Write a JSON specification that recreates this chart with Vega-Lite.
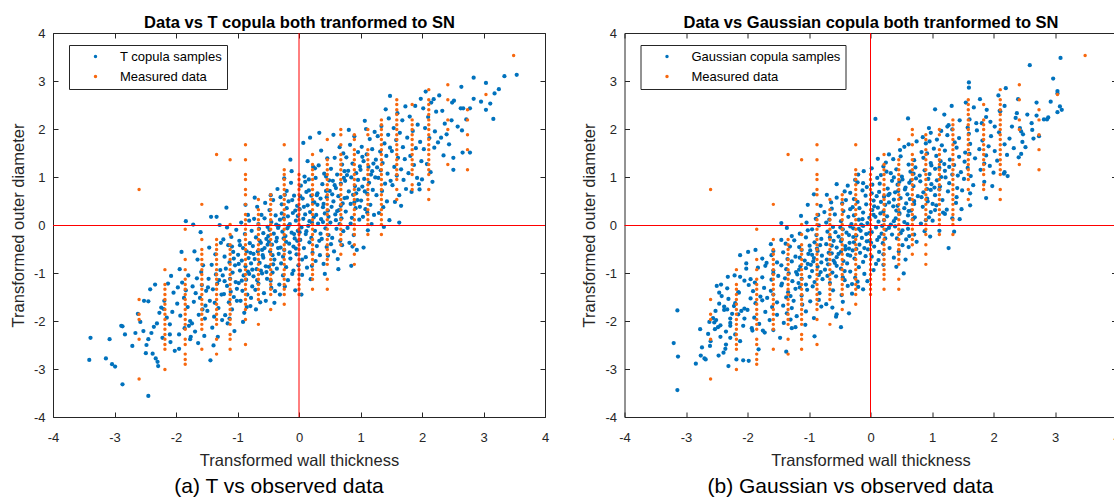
{
"$schema":"https://vega.github.io/schema/vega-lite/v6.json",
"background":"white",
"padding":{"left":10,"top":14,"right":0,"bottom":0},
"spacing":32.5,
"config":{"font":"Liberation Sans","view":{"stroke":null},
"axis":{"grid":false,"domainColor":"#262626","tickColor":"#262626","labelColor":"#262626","titleColor":"#262626","labelFont":"Liberation Sans","titleFont":"Liberation Sans","titleFontWeight":"normal"},
"title":{"font":"Liberation Sans"}},
"resolve":{"scale":{"color":"independent"}},
"datasets":{
"meas":[
{"x":-2.6,"y":0.74},{"x":-2.6,"y":-1.55},{"x":-2.6,"y":-1.86},{"x":-2.6,"y":-1.97},{"x":-2.6,"y":-2.38},{"x":-2.6,"y":-3.21},
{"x":-2.18,"y":-0.93},{"x":-2.18,"y":-1.24},{"x":-2.18,"y":-1.34},{"x":-2.18,"y":-1.45},{"x":-2.18,"y":-1.55},{"x":-2.18,"y":-1.65},{"x":-2.18,"y":-1.76},{"x":-2.18,"y":-1.86},{"x":-2.18,"y":-1.97},{"x":-2.18,"y":-2.07},{"x":-2.18,"y":-2.17},{"x":-2.18,"y":-2.28},{"x":-2.18,"y":-2.38},{"x":-2.18,"y":-2.49},{"x":-2.18,"y":-2.59},{"x":-2.18,"y":-3.01},
{"x":-1.85,"y":-0.09},{"x":-1.85,"y":-0.72},{"x":-1.85,"y":-0.93},{"x":-1.85,"y":-1.13},{"x":-1.85,"y":-1.24},{"x":-1.85,"y":-1.34},{"x":-1.85,"y":-1.45},{"x":-1.85,"y":-1.55},{"x":-1.85,"y":-1.65},{"x":-1.85,"y":-1.76},{"x":-1.85,"y":-1.86},{"x":-1.85,"y":-1.97},{"x":-1.85,"y":-2.07},{"x":-1.85,"y":-2.17},{"x":-1.85,"y":-2.38},{"x":-1.85,"y":-2.49},{"x":-1.85,"y":-2.69},{"x":-1.85,"y":-2.8},{"x":-1.85,"y":-2.9},
{"x":-1.58,"y":0.43},{"x":-1.58,"y":-0.3},{"x":-1.58,"y":-0.51},{"x":-1.58,"y":-0.61},{"x":-1.58,"y":-0.72},{"x":-1.58,"y":-0.82},{"x":-1.58,"y":-0.93},{"x":-1.58,"y":-1.03},{"x":-1.58,"y":-1.13},{"x":-1.58,"y":-1.24},{"x":-1.58,"y":-1.34},{"x":-1.58,"y":-1.45},{"x":-1.58,"y":-1.55},{"x":-1.58,"y":-1.65},{"x":-1.58,"y":-1.76},{"x":-1.58,"y":-1.86},{"x":-1.58,"y":-1.97},{"x":-1.58,"y":-2.07},{"x":-1.58,"y":-2.17},{"x":-1.58,"y":-2.59},
{"x":-1.34,"y":1.47},{"x":-1.34,"y":-0.3},{"x":-1.34,"y":-0.41},{"x":-1.34,"y":-0.51},{"x":-1.34,"y":-0.61},{"x":-1.34,"y":-0.72},{"x":-1.34,"y":-0.82},{"x":-1.34,"y":-0.93},{"x":-1.34,"y":-1.03},{"x":-1.34,"y":-1.13},{"x":-1.34,"y":-1.24},{"x":-1.34,"y":-1.34},{"x":-1.34,"y":-1.45},{"x":-1.34,"y":-1.55},{"x":-1.34,"y":-1.65},{"x":-1.34,"y":-1.76},{"x":-1.34,"y":-1.86},{"x":-1.34,"y":-1.97},{"x":-1.34,"y":-2.07},{"x":-1.34,"y":-2.38},{"x":-1.34,"y":-2.69},
{"x":-1.12,"y":1.36},{"x":-1.12,"y":0.01},{"x":-1.12,"y":-0.2},{"x":-1.12,"y":-0.41},{"x":-1.12,"y":-0.51},{"x":-1.12,"y":-0.61},{"x":-1.12,"y":-0.72},{"x":-1.12,"y":-0.82},{"x":-1.12,"y":-0.93},{"x":-1.12,"y":-1.03},{"x":-1.12,"y":-1.13},{"x":-1.12,"y":-1.24},{"x":-1.12,"y":-1.34},{"x":-1.12,"y":-1.45},{"x":-1.12,"y":-1.55},{"x":-1.12,"y":-1.65},{"x":-1.12,"y":-1.76},{"x":-1.12,"y":-1.86},{"x":-1.12,"y":-1.97},{"x":-1.12,"y":-2.07},{"x":-1.12,"y":-2.28},{"x":-1.12,"y":-2.38},{"x":-1.12,"y":-2.59},
{"x":-0.87,"y":1.67},{"x":-0.87,"y":1.36},{"x":-0.87,"y":1.05},{"x":-0.87,"y":0.95},{"x":-0.87,"y":0.74},{"x":-0.87,"y":0.63},{"x":-0.87,"y":0.43},{"x":-0.87,"y":0.22},{"x":-0.87,"y":0.11},{"x":-0.87,"y":0.01},{"x":-0.87,"y":-0.09},{"x":-0.87,"y":-0.2},{"x":-0.87,"y":-0.3},{"x":-0.87,"y":-0.41},{"x":-0.87,"y":-0.51},{"x":-0.87,"y":-0.61},{"x":-0.87,"y":-0.72},{"x":-0.87,"y":-0.82},{"x":-0.87,"y":-0.93},{"x":-0.87,"y":-1.03},{"x":-0.87,"y":-1.13},{"x":-0.87,"y":-1.24},{"x":-0.87,"y":-1.34},{"x":-0.87,"y":-1.45},{"x":-0.87,"y":-1.55},{"x":-0.87,"y":-1.65},{"x":-0.87,"y":-1.76},{"x":-0.87,"y":-1.97},{"x":-0.87,"y":-2.49},
{"x":-0.66,"y":0.53},{"x":-0.66,"y":0.32},{"x":-0.66,"y":0.22},{"x":-0.66,"y":0.11},{"x":-0.66,"y":0.01},{"x":-0.66,"y":-0.09},{"x":-0.66,"y":-0.2},{"x":-0.66,"y":-0.3},{"x":-0.66,"y":-0.41},{"x":-0.66,"y":-0.51},{"x":-0.66,"y":-0.61},{"x":-0.66,"y":-0.72},{"x":-0.66,"y":-0.82},{"x":-0.66,"y":-0.93},{"x":-0.66,"y":-1.03},{"x":-0.66,"y":-1.13},{"x":-0.66,"y":-1.24},{"x":-0.66,"y":-1.34},{"x":-0.66,"y":-1.45},{"x":-0.66,"y":-1.55},{"x":-0.66,"y":-2.07},
{"x":-0.46,"y":0.63},{"x":-0.46,"y":0.53},{"x":-0.46,"y":0.43},{"x":-0.46,"y":0.32},{"x":-0.46,"y":0.22},{"x":-0.46,"y":0.11},{"x":-0.46,"y":0.01},{"x":-0.46,"y":-0.09},{"x":-0.46,"y":-0.2},{"x":-0.46,"y":-0.3},{"x":-0.46,"y":-0.41},{"x":-0.46,"y":-0.51},{"x":-0.46,"y":-0.61},{"x":-0.46,"y":-0.72},{"x":-0.46,"y":-0.82},{"x":-0.46,"y":-0.93},{"x":-0.46,"y":-1.03},{"x":-0.46,"y":-1.13},{"x":-0.46,"y":-1.24},{"x":-0.46,"y":-1.34},{"x":-0.46,"y":-1.45},{"x":-0.46,"y":-1.76},
{"x":-0.24,"y":1.67},{"x":-0.24,"y":1.15},{"x":-0.24,"y":1.05},{"x":-0.24,"y":0.95},{"x":-0.24,"y":0.84},{"x":-0.24,"y":0.74},{"x":-0.24,"y":0.63},{"x":-0.24,"y":0.53},{"x":-0.24,"y":0.43},{"x":-0.24,"y":0.32},{"x":-0.24,"y":0.22},{"x":-0.24,"y":0.11},{"x":-0.24,"y":0.01},{"x":-0.24,"y":-0.09},{"x":-0.24,"y":-0.2},{"x":-0.24,"y":-0.3},{"x":-0.24,"y":-0.41},{"x":-0.24,"y":-0.51},{"x":-0.24,"y":-0.61},{"x":-0.24,"y":-0.72},{"x":-0.24,"y":-0.82},{"x":-0.24,"y":-0.93},{"x":-0.24,"y":-1.03},{"x":-0.24,"y":-1.13},{"x":-0.24,"y":-1.24},{"x":-0.24,"y":-1.34},{"x":-0.24,"y":-1.45},{"x":-0.24,"y":-1.65},
{"x":0,"y":1.05},{"x":0,"y":0.95},{"x":0,"y":0.84},{"x":0,"y":0.74},{"x":0,"y":0.63},{"x":0,"y":0.53},{"x":0,"y":0.43},{"x":0,"y":0.32},{"x":0,"y":0.22},{"x":0,"y":0.11},{"x":0,"y":0.01},{"x":0,"y":-0.09},{"x":0,"y":-0.2},{"x":0,"y":-0.3},{"x":0,"y":-0.41},{"x":0,"y":-0.51},{"x":0,"y":-0.61},{"x":0,"y":-0.72},{"x":0,"y":-0.82},{"x":0,"y":-0.93},{"x":0,"y":-1.03},{"x":0,"y":-1.13},{"x":0,"y":-1.24},{"x":0,"y":-1.34},{"x":0,"y":-1.45},
{"x":0.22,"y":1.47},{"x":0.22,"y":1.26},{"x":0.22,"y":1.15},{"x":0.22,"y":1.05},{"x":0.22,"y":0.95},{"x":0.22,"y":0.84},{"x":0.22,"y":0.74},{"x":0.22,"y":0.63},{"x":0.22,"y":0.53},{"x":0.22,"y":0.43},{"x":0.22,"y":0.32},{"x":0.22,"y":0.22},{"x":0.22,"y":0.11},{"x":0.22,"y":0.01},{"x":0.22,"y":-0.09},{"x":0.22,"y":-0.2},{"x":0.22,"y":-0.3},{"x":0.22,"y":-0.41},{"x":0.22,"y":-0.51},{"x":0.22,"y":-0.61},{"x":0.22,"y":-0.72},{"x":0.22,"y":-0.82},{"x":0.22,"y":-0.93},{"x":0.22,"y":-1.03},{"x":0.22,"y":-1.13},{"x":0.22,"y":-1.34},
{"x":0.46,"y":1.78},{"x":0.46,"y":1.36},{"x":0.46,"y":1.26},{"x":0.46,"y":1.15},{"x":0.46,"y":1.05},{"x":0.46,"y":0.95},{"x":0.46,"y":0.84},{"x":0.46,"y":0.74},{"x":0.46,"y":0.63},{"x":0.46,"y":0.53},{"x":0.46,"y":0.43},{"x":0.46,"y":0.32},{"x":0.46,"y":0.22},{"x":0.46,"y":0.11},{"x":0.46,"y":0.01},{"x":0.46,"y":-0.09},{"x":0.46,"y":-0.2},{"x":0.46,"y":-0.3},{"x":0.46,"y":-0.41},{"x":0.46,"y":-0.51},{"x":0.46,"y":-0.61},{"x":0.46,"y":-0.72},{"x":0.46,"y":-0.82},{"x":0.46,"y":-1.13},{"x":0.46,"y":-1.34},
{"x":0.68,"y":1.99},{"x":0.68,"y":1.88},{"x":0.68,"y":1.67},{"x":0.68,"y":1.47},{"x":0.68,"y":1.36},{"x":0.68,"y":1.26},{"x":0.68,"y":1.15},{"x":0.68,"y":1.05},{"x":0.68,"y":0.95},{"x":0.68,"y":0.84},{"x":0.68,"y":0.74},{"x":0.68,"y":0.63},{"x":0.68,"y":0.53},{"x":0.68,"y":0.43},{"x":0.68,"y":0.32},{"x":0.68,"y":0.22},{"x":0.68,"y":0.11},{"x":0.68,"y":0.01},{"x":0.68,"y":-0.09},{"x":0.68,"y":-0.2},{"x":0.68,"y":-0.3},{"x":0.68,"y":-0.41},{"x":0.68,"y":-0.61},
{"x":0.9,"y":1.88},{"x":0.9,"y":1.78},{"x":0.9,"y":1.57},{"x":0.9,"y":1.47},{"x":0.9,"y":1.36},{"x":0.9,"y":1.26},{"x":0.9,"y":1.15},{"x":0.9,"y":1.05},{"x":0.9,"y":0.95},{"x":0.9,"y":0.84},{"x":0.9,"y":0.74},{"x":0.9,"y":0.63},{"x":0.9,"y":0.53},{"x":0.9,"y":0.43},{"x":0.9,"y":0.32},{"x":0.9,"y":0.22},{"x":0.9,"y":0.11},{"x":0.9,"y":0.01},{"x":0.9,"y":-0.09},{"x":0.9,"y":-0.2},{"x":0.9,"y":-0.41},{"x":0.9,"y":-0.61},{"x":0.9,"y":-0.82},
{"x":1.12,"y":1.99},{"x":1.12,"y":1.88},{"x":1.12,"y":1.57},{"x":1.12,"y":1.47},{"x":1.12,"y":1.36},{"x":1.12,"y":1.26},{"x":1.12,"y":1.15},{"x":1.12,"y":1.05},{"x":1.12,"y":0.95},{"x":1.12,"y":0.84},{"x":1.12,"y":0.74},{"x":1.12,"y":0.63},{"x":1.12,"y":0.53},{"x":1.12,"y":0.43},{"x":1.12,"y":0.32},{"x":1.12,"y":0.22},{"x":1.12,"y":0.11},{"x":1.12,"y":0.01},{"x":1.12,"y":-0.2},
{"x":1.34,"y":2.19},{"x":1.34,"y":2.09},{"x":1.34,"y":1.99},{"x":1.34,"y":1.88},{"x":1.34,"y":1.78},{"x":1.34,"y":1.67},{"x":1.34,"y":1.57},{"x":1.34,"y":1.47},{"x":1.34,"y":1.36},{"x":1.34,"y":1.26},{"x":1.34,"y":1.15},{"x":1.34,"y":1.05},{"x":1.34,"y":0.95},{"x":1.34,"y":0.84},{"x":1.34,"y":0.74},{"x":1.34,"y":0.63},{"x":1.34,"y":0.53},{"x":1.34,"y":0.43},{"x":1.34,"y":0.32},{"x":1.34,"y":0.22},{"x":1.34,"y":0.11},{"x":1.34,"y":0.01},{"x":1.34,"y":-0.2},
{"x":1.59,"y":2.61},{"x":1.59,"y":2.51},{"x":1.59,"y":2.4},{"x":1.59,"y":2.3},{"x":1.59,"y":2.19},{"x":1.59,"y":2.09},{"x":1.59,"y":1.99},{"x":1.59,"y":1.88},{"x":1.59,"y":1.78},{"x":1.59,"y":1.67},{"x":1.59,"y":1.57},{"x":1.59,"y":1.47},{"x":1.59,"y":1.36},{"x":1.59,"y":1.26},{"x":1.59,"y":1.15},{"x":1.59,"y":1.05},{"x":1.59,"y":0.95},{"x":1.59,"y":0.74},{"x":1.59,"y":0.53},
{"x":1.84,"y":2.51},{"x":1.84,"y":2.19},{"x":1.84,"y":2.09},{"x":1.84,"y":1.99},{"x":1.84,"y":1.88},{"x":1.84,"y":1.78},{"x":1.84,"y":1.67},{"x":1.84,"y":1.57},{"x":1.84,"y":1.47},{"x":1.84,"y":1.36},{"x":1.84,"y":1.26},{"x":1.84,"y":1.15},{"x":1.84,"y":1.05},{"x":1.84,"y":0.84},{"x":1.84,"y":0.74},
{"x":2.11,"y":2.82},{"x":2.11,"y":2.61},{"x":2.11,"y":2.51},{"x":2.11,"y":2.4},{"x":2.11,"y":2.3},{"x":2.11,"y":2.19},{"x":2.11,"y":2.09},{"x":2.11,"y":1.99},{"x":2.11,"y":1.88},{"x":2.11,"y":1.78},{"x":2.11,"y":1.67},{"x":2.11,"y":1.57},{"x":2.11,"y":1.47},{"x":2.11,"y":1.36},{"x":2.11,"y":1.26},{"x":2.11,"y":1.15},{"x":2.11,"y":1.05},{"x":2.11,"y":0.74},{"x":2.11,"y":0.53},
{"x":2.42,"y":2.92},{"x":2.42,"y":2.61},{"x":2.42,"y":2.19},{"x":2.42,"y":1.99},{"x":2.42,"y":1.26},
{"x":2.74,"y":2.4},{"x":2.74,"y":2.19},{"x":2.74,"y":1.88},{"x":2.74,"y":1.57},{"x":2.74,"y":1.15},
{"x":3.04,"y":2.72},{"x":3.49,"y":3.53}
],
"tc":[
{"x":-3.39,"y":-2.35},{"x":-3.41,"y":-2.81},{"x":-3.08,"y":-2.38},{"x":-3.14,"y":-2.78},{"x":-3.04,"y":-2.9},{"x":-2.99,"y":-2.95},{"x":-2.87,"y":-3.32},{"x":-2.45,"y":-3.56},{"x":-2.89,"y":-2.1},{"x":-2.87,"y":-2.11},{"x":-2.83,"y":-2.28},{"x":-2.66,"y":-2.25},{"x":-2.52,"y":-1.58},{"x":-2.49,"y":-2.67},{"x":-2.53,"y":-2.21},{"x":-2.62,"y":-1.85},{"x":-2.71,"y":-2.52},{"x":-2.58,"y":-2.02},
{"x":-2.48,"y":-2.5},{"x":-2.45,"y":-2.38},{"x":-2.42,"y":-1.34},{"x":-2.45,"y":-1.59},{"x":-2.38,"y":-2.68},{"x":-2.33,"y":-2.78},{"x":-2.3,"y":-2.85},{"x":-2.29,"y":-2.94},{"x":-2.4,"y":-2.25},{"x":-2.31,"y":-2.05},{"x":-2.34,"y":-1.24},{"x":-2.27,"y":-1.83},{"x":-2.36,"y":-2.12},
{"x":-2.24,"y":-1.72},{"x":-2.19,"y":-1.58},{"x":-2.2,"y":-1.75},{"x":-2.1,"y":-2.07},{"x":-2.1,"y":-2.28},{"x":-2.09,"y":-2.44},{"x":-2.08,"y":-1.06},{"x":-2.15,"y":-1.93},{"x":-2.04,"y":-1.41},{"x":-2.22,"y":-2.35},{"x":-2.02,"y":-2.62},{"x":-2.13,"y":-1.22},{"x":-2.06,"y":-1.81},
{"x":-1.94,"y":-0.92},{"x":-1.95,"y":-2.28},{"x":-1.95,"y":-2.58},{"x":-1.91,"y":-0.56},{"x":-1.9,"y":-1.2},{"x":-1.84,"y":-1.36},{"x":-1.77,"y":-2.38},{"x":-1.77,"y":-2},{"x":-1.76,"y":-2.33},{"x":-1.79,"y":-2.1},{"x":-1.84,"y":0.08},{"x":-1.98,"y":-1.64},{"x":-1.87,"y":-1.52},{"x":-1.81,"y":-1.71},{"x":-1.93,"y":-1.89},{"x":-1.86,"y":-2.15},{"x":-1.8,"y":-1.05},{"x":-1.97,"y":-1.3},
{"x":-1.72,"y":0.01},{"x":-1.6,"y":-0.15},{"x":-1.54,"y":-2.31},{"x":-1.68,"y":-1.42},{"x":-1.66,"y":-1.11},{"x":-1.63,"y":-1.87},{"x":-1.71,"y":-1.6},{"x":-1.58,"y":-1.25},{"x":-1.56,"y":-0.84},{"x":-1.74,"y":-2.05},{"x":-1.52,"y":-1.68},{"x":-1.65,"y":-0.72},{"x":-1.61,"y":-1.52},{"x":-1.69,"y":-2.22},{"x":-1.53,"y":-1.95},{"x":-1.59,"y":-0.98},{"x":-1.73,"y":-1.28},{"x":-1.51,"y":-1.37},{"x":-1.64,"y":-2.46},{"x":-1.57,"y":-1.76},{"x":-1.7,"y":-0.55},
{"x":-1.44,"y":-2.82},{"x":-1.39,"y":-2.51},{"x":-1.43,"y":0.17},{"x":-1.34,"y":0.17},{"x":-1.29,"y":0},{"x":-1.47,"y":-1.12},{"x":-1.45,"y":-1.58},{"x":-1.42,"y":-0.83},{"x":-1.4,"y":-1.34},{"x":-1.38,"y":-1.91},{"x":-1.36,"y":-0.61},{"x":-1.33,"y":-1.22},{"x":-1.31,"y":-1.73},{"x":-1.28,"y":-0.94},{"x":-1.26,"y":-1.45},{"x":-1.49,"y":-1.79},{"x":-1.46,"y":-0.47},{"x":-1.41,"y":-2.14},{"x":-1.35,"y":-1.03},{"x":-1.32,"y":-2.33},{"x":-1.3,"y":-1.15},{"x":-1.27,"y":-0.37},{"x":-1.48,"y":-1.3},{"x":-1.37,"y":-1.62},{"x":-1.25,"y":-1.98},
{"x":-1.18,"y":0.36},{"x":-1.24,"y":-1.05},{"x":-1.22,"y":-1.44},{"x":-1.21,"y":-0.66},{"x":-1.2,"y":-1.88},{"x":-1.19,"y":-0.91},{"x":-1.17,"y":-1.27},{"x":-1.16,"y":-2.05},{"x":-1.15,"y":-0.42},{"x":-1.14,"y":-1.61},{"x":-1.13,"y":-0.78},{"x":-1.12,"y":-1.12},{"x":-1.11,"y":-1.39},{"x":-1.1,"y":-0.25},{"x":-1.09,"y":-1.76},{"x":-1.08,"y":-0.99},{"x":-1.07,"y":-0.56},{"x":-1.06,"y":-1.5},{"x":-1.05,"y":-2.21},{"x":-1.04,"y":-0.84},{"x":-1.03,"y":-1.19},{"x":-1.02,"y":-0.1},{"x":-1.01,"y":-1.33},{"x":-1.23,"y":-0.3},{"x":-1.17,"y":-0.05},{"x":-1.13,"y":-1.95},{"x":-1.06,"y":-0.7},{"x":-1.01,"y":-1.58},{"x":-1.21,"y":-1.17},{"x":-1.09,"y":-0.45},
{"x":-0.99,"y":-0.62},{"x":-0.98,"y":-1.21},{"x":-0.97,"y":-0.33},{"x":-0.96,"y":-0.95},{"x":-0.95,"y":-1.58},{"x":-0.94,"y":0.05},{"x":-0.93,"y":-0.74},{"x":-0.92,"y":-1.37},{"x":-0.91,"y":-0.48},{"x":-0.9,"y":-1.05},{"x":-0.89,"y":-1.83},{"x":-0.88,"y":-0.19},{"x":-0.87,"y":-0.86},{"x":-0.86,"y":-1.14},{"x":-0.85,"y":-0.55},{"x":-0.84,"y":-1.45},{"x":-0.83,"y":0.21},{"x":-0.82,"y":-0.69},{"x":-0.81,"y":-1.02},{"x":-0.8,"y":-0.38},{"x":-0.79,"y":-1.69},{"x":-0.78,"y":-0.8},{"x":-0.77,"y":-0.12},{"x":-0.76,"y":-1.28},{"x":-0.96,"y":-0.42},{"x":-0.91,"y":-2.02},{"x":-0.87,"y":0.42},{"x":-0.83,"y":-0.97},{"x":-0.79,"y":-0.58},{"x":-0.76,"y":-0.93},{"x":-0.98,"y":-0.81},{"x":-0.85,"y":-1.71},{"x":-0.81,"y":0.09},{"x":-0.93,"y":-1.16},{"x":-0.78,"y":-1.52},
{"x":-0.75,"y":-0.44},{"x":-0.74,"y":-1.07},{"x":-0.73,"y":0.13},{"x":-0.72,"y":-0.71},{"x":-0.71,"y":-1.35},{"x":-0.7,"y":-0.26},{"x":-0.69,"y":-0.92},{"x":-0.68,"y":0.38},{"x":-0.67,"y":-0.55},{"x":-0.66,"y":-1.22},{"x":-0.65,"y":-0.08},{"x":-0.64,"y":-0.79},{"x":-0.63,"y":-1.61},{"x":-0.62,"y":-0.37},{"x":-0.61,"y":0.21},{"x":-0.6,"y":-1.01},{"x":-0.59,"y":-0.63},{"x":-0.58,"y":-0.17},{"x":-0.57,"y":-1.42},{"x":-0.56,"y":-0.48},{"x":-0.55,"y":0.46},{"x":-0.54,"y":-0.86},{"x":-0.53,"y":-0.29},{"x":-0.52,"y":-1.12},{"x":-0.51,"y":-0.04},{"x":-0.74,"y":-0.6},{"x":-0.7,"y":-1.76},{"x":-0.66,"y":0.02},{"x":-0.62,"y":-0.95},{"x":-0.58,"y":-0.68},{"x":-0.54,"y":-1.58},{"x":-0.51,"y":-0.41},{"x":-0.72,"y":0.57},{"x":-0.64,"y":-0.33},{"x":-0.56,"y":0.14},{"x":-0.68,"y":-1.15},{"x":-0.6,"y":-0.52},{"x":-0.53,"y":-0.98},
{"x":-0.5,"y":-0.23},{"x":-0.49,"y":-0.87},{"x":-0.48,"y":0.31},{"x":-0.47,"y":-0.55},{"x":-0.46,"y":-1.16},{"x":-0.45,"y":0.06},{"x":-0.44,"y":-0.41},{"x":-0.43,"y":-0.99},{"x":-0.42,"y":0.52},{"x":-0.41,"y":-0.18},{"x":-0.4,"y":-0.72},{"x":-0.39,"y":-1.38},{"x":-0.38,"y":0.2},{"x":-0.37,"y":-0.34},{"x":-0.36,"y":-0.91},{"x":-0.35,"y":0.75},{"x":-0.34,"y":-0.06},{"x":-0.33,"y":-0.6},{"x":-0.32,"y":-1.24},{"x":-0.31,"y":0.11},{"x":-0.3,"y":-0.47},{"x":-0.29,"y":-0.8},{"x":-0.28,"y":0.43},{"x":-0.27,"y":-0.14},{"x":-0.26,"y":-1.05},{"x":-0.25,"y":-0.28},{"x":-0.49,"y":-0.35},{"x":-0.46,"y":0.62},{"x":-0.43,"y":-0.63},{"x":-0.4,"y":-1.62},{"x":-0.37,"y":0.01},{"x":-0.34,"y":-0.48},{"x":-0.31,"y":-1.45},{"x":-0.28,"y":0.24},{"x":-0.26,"y":-0.66},{"x":-0.48,"y":-0.1},{"x":-0.42,"y":-0.82},{"x":-0.36,"y":-0.27},{"x":-0.3,"y":0.58},{"x":-0.45,"y":-1.31},{"x":-0.33,"y":-0.02},
{"x":-0.25,"y":0.14},{"x":-0.24,"y":-0.52},{"x":-0.23,"y":0.63},{"x":-0.22,"y":-0.23},{"x":-0.21,"y":-0.88},{"x":-0.2,"y":0.35},{"x":-0.19,"y":-0.07},{"x":-0.18,"y":-1.15},{"x":-0.17,"y":0.49},{"x":-0.16,"y":-0.39},{"x":-0.15,"y":0.02},{"x":-0.14,"y":-0.7},{"x":-0.13,"y":0.88},{"x":-0.12,"y":-0.16},{"x":-0.11,"y":-1.02},{"x":-0.1,"y":0.25},{"x":-0.09,"y":-0.45},{"x":-0.08,"y":0.61},{"x":-0.07,"y":-0.28},{"x":-0.06,"y":-1.36},{"x":-0.05,"y":0.09},{"x":-0.04,"y":-0.61},{"x":-0.03,"y":0.4},{"x":-0.02,"y":-0.12},{"x":-0.01,"y":-0.84},{"x":-0.24,"y":0.97},{"x":-0.21,"y":-0.35},{"x":-0.18,"y":0.18},{"x":-0.15,"y":-0.57},{"x":-0.12,"y":1.12},{"x":-0.09,"y":-0.95},{"x":-0.06,"y":0.3},{"x":-0.03,"y":-0.33},{"x":-0.23,"y":-1.28},{"x":-0.17,"y":-0.02},{"x":-0.11,"y":0.52},{"x":-0.05,"y":-0.49},{"x":-0.2,"y":0.71},{"x":-0.08,"y":-0.19},{"x":-0.02,"y":0.19},{"x":-0.14,"y":1.36},
{"x":0.01,"y":0.33},{"x":0.02,"y":-0.31},{"x":0.03,"y":0.82},{"x":0.04,"y":-0.05},{"x":0.05,"y":-0.72},{"x":0.06,"y":0.55},{"x":0.07,"y":0.13},{"x":0.08,"y":-0.48},{"x":0.09,"y":1.01},{"x":0.1,"y":0.22},{"x":0.11,"y":-0.19},{"x":0.12,"y":0.69},{"x":0.13,"y":-0.89},{"x":0.14,"y":0.41},{"x":0.15,"y":-0.02},{"x":0.16,"y":0.95},{"x":0.17,"y":-0.36},{"x":0.18,"y":0.27},{"x":0.19,"y":-1.13},{"x":0.2,"y":0.61},{"x":0.21,"y":0.05},{"x":0.22,"y":-0.58},{"x":0.23,"y":1.21},{"x":0.24,"y":0.16},{"x":0.02,"y":0.6},{"x":0.05,"y":-1.04},{"x":0.08,"y":0.38},{"x":0.11,"y":-0.67},{"x":0.14,"y":1.33},{"x":0.17,"y":0.08},{"x":0.2,"y":-0.27},{"x":0.23,"y":0.47},{"x":0.07,"y":1.71},{"x":0.18,"y":1.82},{"x":0.04,"y":-1.45},{"x":0.12,"y":-0.13},{"x":0.16,"y":0.72},{"x":0.21,"y":-0.85},{"x":0.1,"y":0.9},{"x":0.01,"y":-0.15},
{"x":0.25,"y":0.47},{"x":0.26,"y":-0.12},{"x":0.27,"y":0.98},{"x":0.28,"y":0.21},{"x":0.29,"y":-0.44},{"x":0.3,"y":0.66},{"x":0.31,"y":0.03},{"x":0.32,"y":1.24},{"x":0.33,"y":1.92},{"x":0.34,"y":-0.63},{"x":0.35,"y":0.55},{"x":0.36,"y":0.12},{"x":0.37,"y":-0.29},{"x":0.38,"y":0.85},{"x":0.39,"y":0.37},{"x":0.4,"y":-0.81},{"x":0.41,"y":1.07},{"x":0.42,"y":0.24},{"x":0.43,"y":-0.07},{"x":0.44,"y":0.71},{"x":0.45,"y":-0.46},{"x":0.46,"y":1.39},{"x":0.47,"y":0.3},{"x":0.48,"y":-0.21},{"x":0.49,"y":0.93},{"x":0.27,"y":-0.75},{"x":0.3,"y":0.42},{"x":0.33,"y":-0.33},{"x":0.36,"y":1.55},{"x":0.39,"y":0.06},{"x":0.42,"y":-1.02},{"x":0.45,"y":0.58},{"x":0.48,"y":0.17},{"x":0.26,"y":1.18},{"x":0.35,"y":-0.18},{"x":0.44,"y":1.01},{"x":0.29,"y":0.62},{"x":0.4,"y":0.44},{"x":0.47,"y":-0.64},
{"x":0.5,"y":0.71},{"x":0.51,"y":0.05},{"x":0.52,"y":1.17},{"x":0.53,"y":0.38},{"x":0.54,"y":-0.27},{"x":0.55,"y":0.92},{"x":0.56,"y":0.49},{"x":0.57,"y":-0.55},{"x":0.58,"y":1.4},{"x":0.59,"y":0.22},{"x":0.6,"y":0.77},{"x":0.61,"y":-0.08},{"x":0.62,"y":1.05},{"x":0.63,"y":-0.71},{"x":0.64,"y":0.6},{"x":0.65,"y":0.31},{"x":0.66,"y":1.62},{"x":0.67,"y":-0.33},{"x":0.68,"y":0.86},{"x":0.69,"y":0.14},{"x":0.7,"y":1.26},{"x":0.71,"y":0.45},{"x":0.72,"y":-0.13},{"x":0.73,"y":0.98},{"x":0.74,"y":0.56},{"x":0.52,"y":-0.4},{"x":0.56,"y":1.88},{"x":0.6,"y":0.1},{"x":0.64,"y":-0.92},{"x":0.68,"y":0.4},{"x":0.72,"y":1.49},{"x":0.54,"y":0.64},{"x":0.62,"y":0.29},{"x":0.7,"y":-0.42},{"x":0.58,"y":0.83},{"x":0.66,"y":0.02},{"x":0.74,"y":1.12},
{"x":0.75,"y":0.92},{"x":0.76,"y":0.28},{"x":0.77,"y":1.41},{"x":0.78,"y":0.57},{"x":0.79,"y":-0.06},{"x":0.8,"y":1.13},{"x":0.81,"y":0.7},{"x":0.82,"y":-0.37},{"x":0.83,"y":1.67},{"x":0.84,"y":0.44},{"x":0.85,"y":-0.85},{"x":0.85,"y":0.99},{"x":0.86,"y":0.15},{"x":0.87,"y":1.28},{"x":0.88,"y":0.63},{"x":0.89,"y":-0.21},{"x":0.9,"y":1.85},{"x":0.91,"y":0.81},{"x":0.92,"y":0.35},{"x":0.93,"y":1.08},{"x":0.94,"y":-0.52},{"x":0.95,"y":0.52},{"x":0.96,"y":1.52},{"x":0.97,"y":0.74},{"x":0.98,"y":0.11},{"x":0.99,"y":1.22},{"x":0.78,"y":1.04},{"x":0.84,"y":0.03},{"x":0.9,"y":0.47},{"x":0.96,"y":0.94},{"x":0.81,"y":1.98},{"x":0.87,"y":-0.45},{"x":0.93,"y":0.66},{"x":0.99,"y":0.38},
{"x":1,"y":1.15},{"x":1.01,"y":0.51},{"x":1.02,"y":1.63},{"x":1.03,"y":0.8},{"x":1.04,"y":0.17},{"x":1.05,"y":-0.47},{"x":1.05,"y":1.33},{"x":1.06,"y":0.96},{"x":1.07,"y":2.17},{"x":1.08,"y":0.33},{"x":1.09,"y":2},{"x":1.1,"y":1.47},{"x":1.11,"y":0.65},{"x":1.12,"y":-0.11},{"x":1.13,"y":1.21},{"x":1.14,"y":0.88},{"x":1.15,"y":1.79},{"x":1.16,"y":0.42},{"x":1.17,"y":1.05},{"x":1.18,"y":0.02},{"x":1.19,"y":1.58},{"x":1.2,"y":0.73},{"x":1.21,"y":1.28},{"x":1.22,"y":0.21},{"x":1.23,"y":1.94},{"x":1.24,"y":0.99},{"x":1.03,"y":1.42},{"x":1.11,"y":0.26},{"x":1.19,"y":1.12},{"x":1.07,"y":0.7},
{"x":1.25,"y":1.36},{"x":1.26,"y":0.62},{"x":1.28,"y":1.85},{"x":1.29,"y":0.98},{"x":1.3,"y":0.25},{"x":1.32,"y":1.53},{"x":1.33,"y":1.14},{"x":1.34,"y":2.06},{"x":1.35,"y":0.71},{"x":1.36,"y":1.29},{"x":1.38,"y":-0.04},{"x":1.39,"y":1.7},{"x":1.4,"y":0.86},{"x":1.41,"y":2.41},{"x":1.42,"y":1.44},{"x":1.43,"y":0.49},{"x":1.44,"y":1.07},{"x":1.46,"y":2.22},{"x":1.47,"y":0.1},{"x":1.48,"y":2.69},{"x":1.48,"y":1.61},{"x":1.49,"y":0.92},{"x":1.27,"y":1.2},{"x":1.37,"y":0.37},{"x":1.45,"y":1.88},
{"x":1.51,"y":1.54},{"x":1.52,"y":0.83},{"x":1.54,"y":2.02},{"x":1.55,"y":1.21},{"x":1.56,"y":0.48},{"x":1.58,"y":1.77},{"x":1.59,"y":1.03},{"x":1.6,"y":2.33},{"x":1.61,"y":1.4},{"x":1.63,"y":0.05},{"x":1.63,"y":0.62},{"x":1.64,"y":1.92},{"x":1.66,"y":0.4},{"x":1.66,"y":1.16},{"x":1.68,"y":2.18},{"x":1.69,"y":1.62},{"x":1.7,"y":0.94},{"x":1.72,"y":1.37},{"x":1.73,"y":2.47},{"x":1.74,"y":0.75},
{"x":1.76,"y":1.82},{"x":1.78,"y":1.08},{"x":1.8,"y":2.26},{"x":1.81,"y":1.44},{"x":1.83,"y":0.69},{"x":1.85,"y":1.96},{"x":1.87,"y":1.25},{"x":1.89,"y":2.48},{"x":1.9,"y":1.6},{"x":1.92,"y":0.98},{"x":1.93,"y":2.09},{"x":1.95,"y":0.85},{"x":1.96,"y":0.74},{"x":1.97,"y":1.73},{"x":1.98,"y":2.63},{"x":1.99,"y":1.33},
{"x":2,"y":0.95},{"x":2.02,"y":2.43},{"x":2.03,"y":1.58},{"x":2.05,"y":2.02},{"x":2.06,"y":2.78},{"x":2.08,"y":1.27},{"x":2.1,"y":2.25},{"x":2.12,"y":1.81},{"x":2.14,"y":1.1},{"x":2.15,"y":2.55},{"x":2.17,"y":0.9},{"x":2.19,"y":2.62},{"x":2.2,"y":1.61},{"x":2.21,"y":1.95},{"x":2.23,"y":2.36},
{"x":2.26,"y":1.72},{"x":2.31,"y":1.82},{"x":2.33,"y":2.38},{"x":2.35,"y":1.45},{"x":2.4,"y":1.89},{"x":2.44,"y":1.68},{"x":2.48,"y":2.18},{"x":2.49,"y":2.55},{"x":2.37,"y":2.11},{"x":2.28,"y":2.7},
{"x":2.51,"y":1.4},{"x":2.51,"y":1.15},{"x":2.52,"y":2.59},{"x":2.63,"y":2.43},{"x":2.64,"y":2.88},{"x":2.65,"y":1.97},{"x":2.66,"y":1.51},{"x":2.67,"y":2.43},{"x":2.78,"y":2.43},{"x":2.78,"y":1.51},{"x":2.84,"y":3.07},{"x":2.84,"y":2.63},{"x":2.96,"y":2.57},{"x":3.04,"y":2.96},{"x":3.04,"y":2.4},{"x":3.11,"y":2.53},{"x":3.16,"y":2.21},{"x":3.18,"y":2.74},{"x":3.25,"y":2.83},{"x":3.34,"y":3.1},{"x":3.54,"y":3.13},{"x":2.58,"y":2.05},{"x":2.72,"y":2.2}
],
"gc":[
{"x":-3.14,"y":-1.78},{"x":-3.2,"y":-2.46},{"x":-3.13,"y":-2.74},{"x":-3.14,"y":-3.44},{"x":-2.84,"y":-2.89},{"x":-2.76,"y":-2.72},{"x":-2.74,"y":-2.55},{"x":-2.68,"y":-2.8},{"x":-2.7,"y":-2.78},{"x":-2.61,"y":-2.52},{"x":-2.6,"y":-2.42},{"x":-2.47,"y":-2.72},{"x":-2.39,"y":-2.66},{"x":-2.35,"y":-2.49},{"x":-2.36,"y":-2.58},{"x":-2.31,"y":-2.94},{"x":-2.77,"y":-2.17},{"x":-2.64,"y":-2.27},{"x":-2.53,"y":-2.17},{"x":-2.48,"y":-2.13},{"x":-2.44,"y":-2.33},{"x":-2.56,"y":-1.94},{"x":-2.54,"y":-2.03},{"x":-2.51,"y":-1.98},{"x":-2.52,"y":-1.79},{"x":-2.42,"y":-1.48},{"x":-2.5,"y":-1.27},{"x":-2.43,"y":-1.24},{"x":-2.32,"y":-1.08},{"x":-2.12,"y":-1.08},{"x":-2.2,"y":-1.63},{"x":-2.12,"y":-0.63},{"x":-1.99,"y":-0.56},{"x":-1.87,"y":-0.52},{"x":-2.02,"y":-0.8},{"x":-2.28,"y":-2.04},{"x":-2.2,"y":-2.28},{"x":-2.12,"y":-2.42},{"x":-2.18,"y":-2.8},{"x":-2.07,"y":-2.82},{"x":-1.98,"y":-2.83},{"x":-1.82,"y":-2.59},{"x":-1.37,"y":-2.64},{"x":-1.47,"y":-2.35},{"x":-1.28,"y":-2.15},{"x":-0.91,"y":-2.32},{"x":-0.48,"y":-2.13},{"x":-0.55,"y":-1.86},{"x":-2.25,"y":-1.85},{"x":-2.05,"y":-1.95},{"x":-2.15,"y":-1.4},{"x":-1.92,"y":-2.2},{"x":-2.38,"y":-1.7},{"x":-2.28,"y":-2.35},
{"x":-1.72,"y":-2.24},{"x":-1.58,"y":-2.19},{"x":-1.75,"y":-2.2},{"x":-2.07,"y":-2.1},{"x":-2.28,"y":-2.1},{"x":-2.44,"y":-2.09},{"x":-1.06,"y":-2.08},{"x":-1.93,"y":-2.15},{"x":-1.41,"y":-2.04},{"x":-2.35,"y":-2.22},{"x":-2.62,"y":-2.02},{"x":-1.22,"y":-2.13},{"x":-1.81,"y":-2.06},
{"x":-0.92,"y":-1.94},{"x":-2.28,"y":-1.95},{"x":-0.56,"y":-1.91},{"x":-1.2,"y":-1.9},{"x":-1.36,"y":-1.84},{"x":-2.38,"y":-1.77},{"x":-2,"y":-1.77},{"x":-2.33,"y":-1.76},{"x":-2.1,"y":-1.79},{"x":-0.35,"y":-1.84},{"x":-1.64,"y":-1.98},{"x":-1.52,"y":-1.87},{"x":-1.71,"y":-1.81},{"x":-1.89,"y":-1.93},{"x":-2.15,"y":-1.86},{"x":-1.05,"y":-1.8},{"x":-1.3,"y":-1.97},
{"x":-0.62,"y":-1.72},{"x":-0.45,"y":-1.6},{"x":-2.31,"y":-1.54},{"x":-1.42,"y":-1.68},{"x":-1.11,"y":-1.66},{"x":-1.87,"y":-1.63},{"x":-1.6,"y":-1.71},{"x":-1.25,"y":-1.58},{"x":-0.84,"y":-1.56},{"x":-2.05,"y":-1.74},{"x":-1.68,"y":-1.52},{"x":-0.72,"y":-1.65},{"x":-1.52,"y":-1.61},{"x":-2.22,"y":-1.69},{"x":-1.95,"y":-1.53},{"x":-0.98,"y":-1.59},{"x":-1.28,"y":-1.73},{"x":-1.37,"y":-1.51},{"x":-2.46,"y":-1.64},{"x":-1.76,"y":-1.57},{"x":-0.8,"y":-1.7},
{"x":-2.46,"y":-1.41},{"x":-0.3,"y":-1.43},{"x":-0.12,"y":-1.34},{"x":-0.2,"y":-1.29},{"x":-1.12,"y":-1.47},{"x":-1.58,"y":-1.45},{"x":-0.83,"y":-1.42},{"x":-1.34,"y":-1.4},{"x":-1.91,"y":-1.38},{"x":-0.61,"y":-1.36},{"x":-1.22,"y":-1.33},{"x":-1.73,"y":-1.31},{"x":-0.94,"y":-1.28},{"x":-1.45,"y":-1.26},{"x":-1.79,"y":-1.49},{"x":-0.47,"y":-1.46},{"x":-2.14,"y":-1.41},{"x":-1.03,"y":-1.35},{"x":-2.33,"y":-1.32},{"x":-1.15,"y":-1.3},{"x":-0.37,"y":-1.27},{"x":-1.3,"y":-1.48},{"x":-1.62,"y":-1.37},{"x":-1.98,"y":-1.25},
{"x":-0.21,"y":-1.18},{"x":-1.05,"y":-1.24},{"x":-1.44,"y":-1.22},{"x":-0.66,"y":-1.21},{"x":-1.88,"y":-1.2},{"x":-0.91,"y":-1.19},{"x":-1.27,"y":-1.17},{"x":-2.05,"y":-1.16},{"x":-0.42,"y":-1.15},{"x":-1.61,"y":-1.14},{"x":-0.78,"y":-1.13},{"x":-1.12,"y":-1.12},{"x":-1.39,"y":-1.11},{"x":-0.25,"y":-1.1},{"x":-1.76,"y":-1.09},{"x":-0.99,"y":-1.08},{"x":-0.56,"y":-1.07},{"x":-1.5,"y":-1.06},{"x":-2.21,"y":-1.05},{"x":-0.84,"y":-1.04},{"x":-1.19,"y":-1.03},{"x":-0.1,"y":-1.02},{"x":-1.33,"y":-1.01},{"x":-0.3,"y":-1.23},{"x":-0.05,"y":-1.17},{"x":-1.95,"y":-1.13},{"x":-0.7,"y":-1.06},{"x":-1.58,"y":-1.01},{"x":-1.17,"y":-1.21},{"x":-0.45,"y":-1.09},
{"x":-0.62,"y":-0.99},{"x":-1.21,"y":-0.98},{"x":-0.33,"y":-0.97},{"x":-0.95,"y":-0.96},{"x":-1.58,"y":-0.95},{"x":0.05,"y":-0.94},{"x":-0.74,"y":-0.93},{"x":-1.37,"y":-0.92},{"x":-0.48,"y":-0.91},{"x":-1.05,"y":-0.9},{"x":-1.83,"y":-0.89},{"x":-0.19,"y":-0.88},{"x":-0.86,"y":-0.87},{"x":-1.14,"y":-0.86},{"x":-0.55,"y":-0.85},{"x":-1.45,"y":-0.84},{"x":0.21,"y":-0.83},{"x":-0.69,"y":-0.82},{"x":-1.02,"y":-0.81},{"x":-0.38,"y":-0.8},{"x":-1.69,"y":-0.79},{"x":-0.8,"y":-0.78},{"x":-0.12,"y":-0.77},{"x":-1.28,"y":-0.76},{"x":-0.42,"y":-0.96},{"x":-2.02,"y":-0.91},{"x":0.42,"y":-0.87},{"x":-0.97,"y":-0.83},{"x":-0.58,"y":-0.79},{"x":-0.93,"y":-0.76},{"x":-0.81,"y":-0.98},{"x":-1.71,"y":-0.85},{"x":0.09,"y":-0.81},{"x":-1.16,"y":-0.93},{"x":-1.52,"y":-0.78},
{"x":-0.44,"y":-0.75},{"x":-1.07,"y":-0.74},{"x":0.13,"y":-0.73},{"x":-0.71,"y":-0.72},{"x":-1.35,"y":-0.71},{"x":-0.26,"y":-0.7},{"x":-0.92,"y":-0.69},{"x":0.38,"y":-0.68},{"x":-0.55,"y":-0.67},{"x":-1.22,"y":-0.66},{"x":-0.08,"y":-0.65},{"x":-0.79,"y":-0.64},{"x":-1.61,"y":-0.63},{"x":-0.37,"y":-0.62},{"x":0.21,"y":-0.61},{"x":-1.01,"y":-0.6},{"x":-0.63,"y":-0.59},{"x":-0.17,"y":-0.58},{"x":-1.42,"y":-0.57},{"x":-0.48,"y":-0.56},{"x":0.46,"y":-0.55},{"x":-0.86,"y":-0.54},{"x":-0.29,"y":-0.53},{"x":-1.12,"y":-0.52},{"x":-0.04,"y":-0.51},{"x":-0.6,"y":-0.74},{"x":-1.76,"y":-0.7},{"x":0.02,"y":-0.66},{"x":-0.95,"y":-0.62},{"x":-0.68,"y":-0.58},{"x":-1.58,"y":-0.54},{"x":-0.41,"y":-0.51},{"x":0.57,"y":-0.72},{"x":-0.33,"y":-0.64},{"x":0.14,"y":-0.56},{"x":-1.15,"y":-0.68},{"x":-0.52,"y":-0.6},{"x":-0.98,"y":-0.53},
{"x":-0.23,"y":-0.5},{"x":-0.87,"y":-0.49},{"x":0.31,"y":-0.48},{"x":-0.55,"y":-0.47},{"x":-1.16,"y":-0.46},{"x":0.06,"y":-0.45},{"x":-0.41,"y":-0.44},{"x":-0.99,"y":-0.43},{"x":0.52,"y":-0.42},{"x":-0.18,"y":-0.41},{"x":-0.72,"y":-0.4},{"x":-1.38,"y":-0.39},{"x":0.2,"y":-0.38},{"x":-0.34,"y":-0.37},{"x":-0.91,"y":-0.36},{"x":0.75,"y":-0.35},{"x":-0.06,"y":-0.34},{"x":-0.6,"y":-0.33},{"x":-1.24,"y":-0.32},{"x":0.11,"y":-0.31},{"x":-0.47,"y":-0.3},{"x":-0.8,"y":-0.29},{"x":0.43,"y":-0.28},{"x":-0.14,"y":-0.27},{"x":-1.05,"y":-0.26},{"x":-0.28,"y":-0.25},{"x":-0.35,"y":-0.49},{"x":0.62,"y":-0.46},{"x":-0.63,"y":-0.43},{"x":-1.62,"y":-0.4},{"x":0.01,"y":-0.37},{"x":-0.48,"y":-0.34},{"x":-1.45,"y":-0.31},{"x":0.24,"y":-0.28},{"x":-0.66,"y":-0.26},{"x":-0.1,"y":-0.48},{"x":-0.82,"y":-0.42},{"x":-0.27,"y":-0.36},{"x":0.58,"y":-0.3},{"x":-1.31,"y":-0.45},{"x":-0.02,"y":-0.33},
{"x":0.14,"y":-0.25},{"x":-0.52,"y":-0.24},{"x":0.63,"y":-0.23},{"x":-0.23,"y":-0.22},{"x":-0.88,"y":-0.21},{"x":0.35,"y":-0.2},{"x":-0.07,"y":-0.19},{"x":-1.15,"y":-0.18},{"x":0.49,"y":-0.17},{"x":-0.39,"y":-0.16},{"x":0.02,"y":-0.15},{"x":-0.7,"y":-0.14},{"x":0.88,"y":-0.13},{"x":-0.16,"y":-0.12},{"x":-1.02,"y":-0.11},{"x":0.25,"y":-0.1},{"x":-0.45,"y":-0.09},{"x":0.61,"y":-0.08},{"x":-0.28,"y":-0.07},{"x":-1.36,"y":-0.06},{"x":0.09,"y":-0.05},{"x":-0.61,"y":-0.04},{"x":0.4,"y":-0.03},{"x":-0.12,"y":-0.02},{"x":-0.84,"y":-0.01},{"x":0.97,"y":-0.24},{"x":-0.35,"y":-0.21},{"x":0.18,"y":-0.18},{"x":-0.57,"y":-0.15},{"x":1.12,"y":-0.12},{"x":-0.95,"y":-0.09},{"x":0.3,"y":-0.06},{"x":-0.33,"y":-0.03},{"x":-1.28,"y":-0.23},{"x":-0.02,"y":-0.17},{"x":0.52,"y":-0.11},{"x":-0.49,"y":-0.05},{"x":0.71,"y":-0.2},{"x":-0.19,"y":-0.08},{"x":0.19,"y":-0.02},{"x":1.36,"y":-0.14},
{"x":0.33,"y":0.01},{"x":-0.31,"y":0.02},{"x":0.82,"y":0.03},{"x":-0.05,"y":0.04},{"x":-0.72,"y":0.05},{"x":0.55,"y":0.06},{"x":0.13,"y":0.07},{"x":-0.48,"y":0.08},{"x":1.01,"y":0.09},{"x":0.22,"y":0.1},{"x":-0.19,"y":0.11},{"x":0.69,"y":0.12},{"x":-0.89,"y":0.13},{"x":0.41,"y":0.14},{"x":-0.02,"y":0.15},{"x":0.95,"y":0.16},{"x":-0.36,"y":0.17},{"x":0.27,"y":0.18},{"x":-1.13,"y":0.19},{"x":0.61,"y":0.2},{"x":0.05,"y":0.21},{"x":-0.58,"y":0.22},{"x":1.21,"y":0.23},{"x":0.16,"y":0.24},{"x":0.6,"y":0.02},{"x":-1.04,"y":0.05},{"x":0.38,"y":0.08},{"x":-0.67,"y":0.11},{"x":1.33,"y":0.14},{"x":0.08,"y":0.17},{"x":-0.27,"y":0.2},{"x":0.47,"y":0.23},{"x":1.45,"y":0.12},{"x":1.05,"y":0.31},{"x":-1.45,"y":0.04},{"x":-0.13,"y":0.12},{"x":0.72,"y":0.16},{"x":-0.85,"y":0.21},{"x":0.9,"y":0.1},{"x":-0.15,"y":0.01},
{"x":0.47,"y":0.25},{"x":-0.12,"y":0.26},{"x":0.98,"y":0.27},{"x":0.21,"y":0.28},{"x":-0.44,"y":0.29},{"x":0.66,"y":0.3},{"x":0.03,"y":0.31},{"x":1.24,"y":0.32},{"x":1.48,"y":0.33},{"x":-0.63,"y":0.34},{"x":0.55,"y":0.35},{"x":0.12,"y":0.36},{"x":-0.29,"y":0.37},{"x":0.85,"y":0.38},{"x":0.37,"y":0.39},{"x":-0.81,"y":0.4},{"x":1.07,"y":0.41},{"x":0.24,"y":0.42},{"x":-0.07,"y":0.43},{"x":0.71,"y":0.44},{"x":-0.46,"y":0.45},{"x":1.39,"y":0.46},{"x":0.3,"y":0.47},{"x":-0.21,"y":0.48},{"x":0.93,"y":0.49},{"x":-0.75,"y":0.27},{"x":0.42,"y":0.3},{"x":-0.33,"y":0.33},{"x":1.62,"y":0.41},{"x":0.06,"y":0.39},{"x":-1.02,"y":0.42},{"x":0.58,"y":0.45},{"x":0.17,"y":0.48},{"x":1.18,"y":0.26},{"x":-0.18,"y":0.35},{"x":1.01,"y":0.44},{"x":0.62,"y":0.29},{"x":0.44,"y":0.4},{"x":-0.64,"y":0.47},
{"x":0.71,"y":0.5},{"x":0.05,"y":0.51},{"x":1.17,"y":0.52},{"x":0.38,"y":0.53},{"x":-0.27,"y":0.54},{"x":0.92,"y":0.55},{"x":0.49,"y":0.56},{"x":-0.55,"y":0.57},{"x":1.4,"y":0.58},{"x":0.22,"y":0.59},{"x":0.77,"y":0.6},{"x":-0.08,"y":0.61},{"x":1.05,"y":0.62},{"x":-0.71,"y":0.63},{"x":0.6,"y":0.64},{"x":0.31,"y":0.65},{"x":1.62,"y":0.66},{"x":-0.33,"y":0.67},{"x":0.86,"y":0.68},{"x":0.14,"y":0.69},{"x":1.26,"y":0.7},{"x":0.45,"y":0.71},{"x":-0.13,"y":0.72},{"x":0.98,"y":0.73},{"x":0.56,"y":0.74},{"x":-0.4,"y":0.52},{"x":1.88,"y":0.56},{"x":0.1,"y":0.6},{"x":-0.92,"y":0.64},{"x":0.4,"y":0.68},{"x":1.49,"y":0.72},{"x":0.64,"y":0.54},{"x":0.29,"y":0.62},{"x":-0.42,"y":0.7},{"x":0.83,"y":0.58},{"x":0.02,"y":0.66},{"x":1.12,"y":0.74},
{"x":0.92,"y":0.75},{"x":0.28,"y":0.76},{"x":1.41,"y":0.77},{"x":0.57,"y":0.78},{"x":-0.06,"y":0.79},{"x":1.13,"y":0.8},{"x":0.7,"y":0.81},{"x":-0.37,"y":0.82},{"x":1.67,"y":0.83},{"x":0.44,"y":0.84},{"x":-0.55,"y":0.85},{"x":0.99,"y":0.85},{"x":0.15,"y":0.86},{"x":1.28,"y":0.87},{"x":0.63,"y":0.88},{"x":-0.21,"y":0.89},{"x":1.85,"y":0.9},{"x":0.81,"y":0.91},{"x":0.35,"y":0.92},{"x":1.08,"y":0.93},{"x":-0.25,"y":0.94},{"x":0.52,"y":0.95},{"x":1.52,"y":0.96},{"x":0.74,"y":0.97},{"x":0.11,"y":0.98},{"x":1.22,"y":0.99},{"x":1.04,"y":0.78},{"x":0.03,"y":0.84},{"x":0.47,"y":0.9},{"x":0.94,"y":0.96},{"x":1.98,"y":0.81},{"x":-0.12,"y":0.87},{"x":0.66,"y":0.93},{"x":0.38,"y":0.99},
{"x":1.15,"y":1},{"x":0.51,"y":1.01},{"x":1.63,"y":1.02},{"x":0.8,"y":1.03},{"x":0.17,"y":1.04},{"x":-0.2,"y":1.05},{"x":1.33,"y":1.05},{"x":0.96,"y":1.06},{"x":2.17,"y":1.07},{"x":0.33,"y":1.08},{"x":2,"y":1.09},{"x":1.47,"y":1.1},{"x":0.65,"y":1.11},{"x":-0.11,"y":1.12},{"x":1.21,"y":1.13},{"x":0.88,"y":1.14},{"x":1.79,"y":1.15},{"x":0.42,"y":1.16},{"x":1.05,"y":1.17},{"x":0.02,"y":1.18},{"x":1.58,"y":1.19},{"x":0.73,"y":1.2},{"x":1.28,"y":1.21},{"x":0.21,"y":1.22},{"x":1.94,"y":1.23},{"x":0.99,"y":1.24},{"x":1.42,"y":1.03},{"x":0.26,"y":1.11},{"x":1.12,"y":1.19},{"x":0.7,"y":1.07},
{"x":1.36,"y":1.25},{"x":0.62,"y":1.26},{"x":1.85,"y":1.28},{"x":0.98,"y":1.29},{"x":0.25,"y":1.3},{"x":1.53,"y":1.32},{"x":1.14,"y":1.33},{"x":2.06,"y":1.34},{"x":0.71,"y":1.35},{"x":1.29,"y":1.36},{"x":0.12,"y":1.38},{"x":1.7,"y":1.39},{"x":0.86,"y":1.4},{"x":2.41,"y":1.41},{"x":1.44,"y":1.42},{"x":0.49,"y":1.43},{"x":1.07,"y":1.44},{"x":2.22,"y":1.46},{"x":0.3,"y":1.47},{"x":2.45,"y":1.48},{"x":1.61,"y":1.48},{"x":0.92,"y":1.49},{"x":1.2,"y":1.27},{"x":0.37,"y":1.37},{"x":1.88,"y":1.45},
{"x":1.54,"y":1.51},{"x":0.83,"y":1.52},{"x":2.02,"y":1.54},{"x":1.21,"y":1.55},{"x":0.48,"y":1.56},{"x":1.77,"y":1.58},{"x":1.03,"y":1.59},{"x":2.33,"y":1.6},{"x":1.4,"y":1.61},{"x":0.55,"y":1.63},{"x":0.62,"y":1.68},{"x":1.92,"y":1.64},{"x":0.9,"y":1.7},{"x":1.16,"y":1.66},{"x":2.18,"y":1.68},{"x":1.62,"y":1.69},{"x":0.96,"y":1.74},{"x":1.37,"y":1.72},{"x":2.47,"y":1.73},{"x":0.75,"y":1.74},
{"x":1.82,"y":1.76},{"x":1.08,"y":1.78},{"x":2.26,"y":1.8},{"x":1.44,"y":1.81},{"x":0.85,"y":1.83},{"x":1.96,"y":1.85},{"x":1.25,"y":1.87},{"x":2.48,"y":1.89},{"x":1.6,"y":1.9},{"x":0.98,"y":1.92},{"x":2.09,"y":1.93},{"x":1.15,"y":1.96},{"x":0.95,"y":2.02},{"x":1.73,"y":1.97},{"x":2.63,"y":1.98},{"x":1.33,"y":1.99},
{"x":1.25,"y":2.05},{"x":2.43,"y":2.02},{"x":1.58,"y":2.03},{"x":2.02,"y":2.05},{"x":1.95,"y":2.15},{"x":1.27,"y":2.08},{"x":1.72,"y":2.12},{"x":1.81,"y":2.12},{"x":1.45,"y":2.18},{"x":1.88,"y":2.25},{"x":1.2,"y":2.3},{"x":2.1,"y":2.38},{"x":1.61,"y":2.2},{"x":1.68,"y":2.45},{"x":2.36,"y":2.23},
{"x":1.55,"y":2.55},{"x":1.78,"y":2.62},{"x":2.38,"y":2.33},{"x":1.32,"y":2.48},{"x":1.89,"y":2.4},{"x":2.08,"y":2.7},{"x":2.18,"y":2.48},{"x":2.2,"y":2.85},{"x":2.11,"y":2.37},{"x":2.7,"y":2.28},
{"x":3.09,"y":3.48},{"x":2.59,"y":3.33},{"x":2.97,"y":3.05},{"x":3.04,"y":2.79},{"x":3.04,"y":2.74},{"x":2.93,"y":2.57},{"x":3.08,"y":2.47},{"x":3.04,"y":2.35},{"x":3.11,"y":2.4},{"x":2.89,"y":2.24},{"x":2.87,"y":2.2},{"x":2.82,"y":2.2},{"x":2.74,"y":1.85},{"x":2.65,"y":1.8},{"x":1.6,"y":2.97},{"x":1.6,"y":2.86},{"x":1.05,"y":2.41},{"x":0.61,"y":2.22},{"x":0.08,"y":2.21},{"x":1.27,"y":-0.48},{"x":0.54,"y":-1.01},{"x":2.23,"y":1.02},{"x":2.18,"y":1.1},{"x":2.55,"y":2.3},{"x":2.4,"y":2.62},{"x":2.45,"y":1.95},{"x":2.7,"y":2.55},{"x":2.3,"y":2.05},{"x":2.52,"y":1.62},{"x":2.62,"y":2.12}
]
},
"hconcat":[
{"width":492,"height":384,
"title":{"text":"(a) T vs observed data","orient":"bottom","fontSize":21,"fontWeight":"normal","color":"black","offset":7,"dx":-20},
"resolve":{"axis":{"x":"independent","y":"independent"}},
"layer":[
{"data":{"name":"tc"},"mark":{"type":"circle","size":18,"opacity":1},
"encoding":{
"x":{"field":"x","type":"quantitative","scale":{"domain":[-4,4],"nice":false,"zero":false},"axis":{"orient":"bottom","values":[-4,-3,-2,-1,0,1,2,3,4],"labelExpr":"''+datum.value","tickSize":-5,"labelPadding":19,"labelFontSize":13,"labelFlush":false,"labelOverlap":false,"title":"Transformed wall thickness","titleFontSize":16.5,"titlePadding":8}},
"y":{"field":"y","type":"quantitative","scale":{"domain":[-4,4],"nice":false,"zero":false},"axis":{"orient":"left","values":[-4,-3,-2,-1,0,1,2,3,4],"labelExpr":"''+datum.value","tickSize":-5,"labelPadding":13,"labelFontSize":13,"labelFlush":false,"labelOverlap":false,"title":"Transformed outer diameter","titleFontSize":16.5,"titlePadding":7}},
"color":{"datum":"T copula samples","scale":{"domain":["T copula samples","Measured data"],"range":["#0072BD","#F7680F"]},"legend":{"orient":"none","legendX":16,"legendY":12,"title":null,"strokeColor":"#262626","fillColor":"#ffffff","padding":5,"labelFont":"Liberation Sans","labelFontSize":13,"labelColor":"#000000","symbolType":"circle","symbolSize":12,"symbolStrokeWidth":0,"symbolOffset":15,"labelOffset":18,"rowPadding":6,"labelLimit":400}}}},
{"data":{"name":"meas"},"mark":{"type":"circle","size":12,"opacity":1},
"encoding":{
"x":{"field":"x","type":"quantitative","scale":{"domain":[-4,4],"nice":false,"zero":false},"axis":{"orient":"top","values":[-4,-3,-2,-1,0,1,2,3,4],"labels":false,"tickSize":-5,"title":"Data vs T copula both tranformed to SN","titleFontSize":16.5,"titleFontWeight":"bold","titleColor":"#000000","titlePadding":2}},
"y":{"field":"y","type":"quantitative","scale":{"domain":[-4,4],"nice":false,"zero":false},"axis":{"orient":"right","values":[-4,-3,-2,-1,0,1,2,3,4],"labels":false,"tickSize":-5,"title":null}},
"color":{"datum":"Measured data"}}},
{"data":{"values":[{}]},"mark":{"type":"rule","color":"#FF0000","strokeWidth":1},"encoding":{"x":{"datum":0,"type":"quantitative","axis":null}}},
{"data":{"values":[{}]},"mark":{"type":"rule","color":"#FF0000","strokeWidth":1,"yOffset":0.5},"encoding":{"y":{"datum":0,"type":"quantitative","axis":null}}}
]},
{"width":492,"height":384,
"title":{"text":"(b) Gaussian vs observed data","orient":"bottom","fontSize":21,"fontWeight":"normal","color":"black","offset":7,"dx":-20},
"resolve":{"axis":{"x":"independent","y":"independent"}},
"layer":[
{"data":{"name":"gc"},"mark":{"type":"circle","size":18,"opacity":1},
"encoding":{
"x":{"field":"x","type":"quantitative","scale":{"domain":[-4,4],"nice":false,"zero":false},"axis":{"orient":"bottom","values":[-4,-3,-2,-1,0,1,2,3,4],"labelExpr":"''+datum.value","tickSize":-5,"labelPadding":19,"labelFontSize":13,"labelFlush":false,"labelOverlap":false,"title":"Transformed wall thickness","titleFontSize":16.5,"titlePadding":8}},
"y":{"field":"y","type":"quantitative","scale":{"domain":[-4,4],"nice":false,"zero":false},"axis":{"orient":"left","values":[-4,-3,-2,-1,0,1,2,3,4],"labelExpr":"''+datum.value","tickSize":-5,"labelPadding":13,"labelFontSize":13,"labelFlush":false,"labelOverlap":false,"title":"Transformed outer diameter","titleFontSize":16.5,"titlePadding":7}},
"color":{"datum":"Gaussian copula samples","scale":{"domain":["Gaussian copula samples","Measured data"],"range":["#0072BD","#F7680F"]},"legend":{"orient":"none","legendX":16,"legendY":12,"title":null,"strokeColor":"#262626","fillColor":"#ffffff","padding":5,"labelFont":"Liberation Sans","labelFontSize":13,"labelColor":"#000000","symbolType":"circle","symbolSize":12,"symbolStrokeWidth":0,"symbolOffset":15,"labelOffset":18,"rowPadding":6,"labelLimit":400}}}},
{"data":{"name":"meas"},"mark":{"type":"circle","size":12,"opacity":1},
"encoding":{
"x":{"field":"x","type":"quantitative","scale":{"domain":[-4,4],"nice":false,"zero":false},"axis":{"orient":"top","values":[-4,-3,-2,-1,0,1,2,3,4],"labels":false,"tickSize":-5,"title":"Data vs Gaussian copula both tranformed to SN","titleFontSize":16.5,"titleFontWeight":"bold","titleColor":"#000000","titlePadding":2}},
"y":{"field":"y","type":"quantitative","scale":{"domain":[-4,4],"nice":false,"zero":false},"axis":{"orient":"right","values":[-4,-3,-2,-1,0,1,2,3,4],"labels":false,"tickSize":-5,"title":null}},
"color":{"datum":"Measured data"}}},
{"data":{"values":[{}]},"mark":{"type":"rule","color":"#FF0000","strokeWidth":1},"encoding":{"x":{"datum":0,"type":"quantitative","axis":null}}},
{"data":{"values":[{}]},"mark":{"type":"rule","color":"#FF0000","strokeWidth":1,"yOffset":0.5},"encoding":{"y":{"datum":0,"type":"quantitative","axis":null}}}
]}
]
}
